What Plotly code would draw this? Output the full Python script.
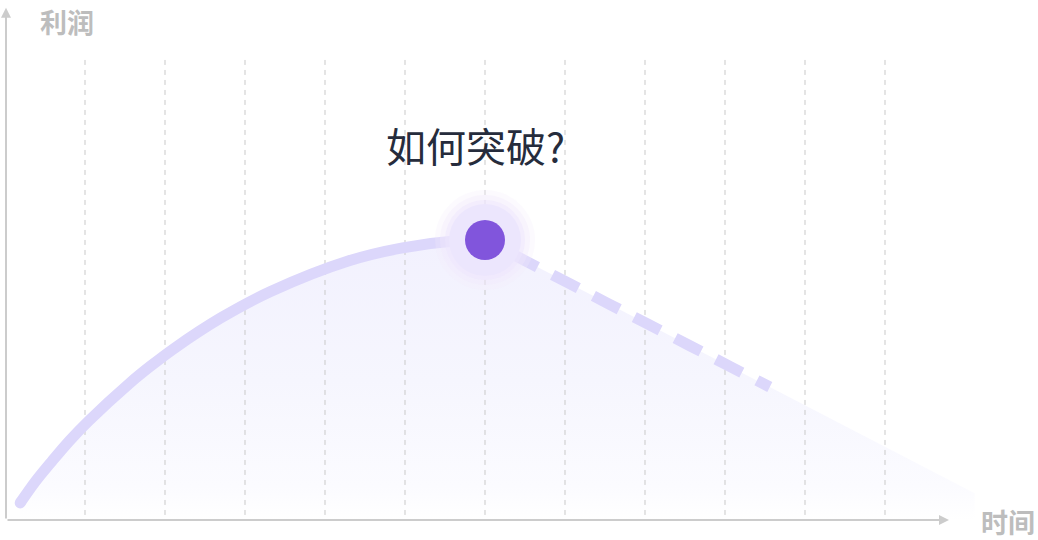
import plotly.graph_objects as go

# time axis: one unit per dashed grid column, profit: 0 at the x axis, 100 at the peak
time_solid = [0.19, 0.38, 0.59, 0.81, 1.05, 1.56, 1.83, 2.11, 2.70, 3.32,
              4.29, 4.97, 5.65, 6]
profit_solid = [6.1, 13.75, 21.1, 28.4, 35.5, 48.9, 55.2, 61.2, 72.2, 81.6,
                92.5, 97.2, 99.75, 100]

time_dash = [6, 7, 8, 9, 9.56]
profit_dash = [100, 85.3, 70.5, 55.8, 47.5]

# the shaded area keeps falling after the dashed line stops
time_tail = [10, 11, 12.12]
profit_tail = [41.1, 26.4, 9.6]

grid_ticks = [1, 2, 3, 4, 5, 6, 7, 8, 9, 10, 11]
grid_top = 164.3

peak_time = 6
peak_profit = 100

y_label = "利润"
x_label = "时间"
question = "如何突破?"

LINE = "#dcd7fb"
AXIS = "#cccccc"
FONT = "Noto Sans CJK SC"

fig = go.Figure()

# soft gradient under the curve
area_x = time_solid + time_dash[1:] + time_tail
area_y = profit_solid + profit_dash[1:] + profit_tail
fig.add_trace(
    go.Scatter(x=area_x,
               y=area_y,
               mode="lines",
               line=dict(width=0),
               fill="tozeroy",
               fillgradient=dict(type="vertical",
                                 start=0,
                                 stop=100,
                                 colorscale=[[0, "rgba(255,255,255,1)"],
                                             [0.12, "#fbfbff"],
                                             [0.5, "#f6f6fe"],
                                             [1, "#f2f1fe"]]),
               hoverinfo="skip",
               showlegend=False))

# dashed vertical guides
gx, gy = [], []
for t in grid_ticks:
    gx += [t, t, None]
    gy += [grid_top, 0, None]
fig.add_trace(
    go.Scatter(x=gx,
               y=gy,
               mode="lines",
               line=dict(color="#c9c9c9", width=1, dash="5px,5px"),
               hoverinfo="skip",
               showlegend=False))

fig.add_trace(
    go.Scatter(x=time_solid,
               y=profit_solid,
               mode="lines",
               line=dict(color=LINE, width=11, shape="spline"),
               hoverinfo="skip",
               showlegend=False))
# round start cap
fig.add_trace(
    go.Scatter(x=time_solid[:1],
               y=profit_solid[:1],
               mode="markers",
               marker=dict(color=LINE, size=11),
               hoverinfo="skip",
               showlegend=False))

# dash pattern split so the first visible dash starts just outside the halo
fig.add_trace(
    go.Scatter(x=time_dash,
               y=profit_dash,
               mode="lines",
               line=dict(color=LINE, width=11, dash="13px,17px,16px,0px"),
               hoverinfo="skip",
               showlegend=False))

# peak marker: glow, halo, dot
for size, color in [(100, "rgba(242,234,253,0.25)"), (90, "rgba(240,231,253,0.35)"),
                    (80, "rgba(238,229,253,0.5)"), (72, "#ece6fd"), (40, "#8155dc")]:
    fig.add_trace(
        go.Scatter(x=[peak_time],
                   y=[peak_profit],
                   mode="markers",
                   marker=dict(color=color, size=size, line=dict(width=0)),
                   hoverinfo="skip",
                   showlegend=False))

# axes with arrow tips
fig.add_annotation(x=0.0125, y=182.9, ax=0.0125, ay=0, xref="x", yref="y",
                   axref="x", ayref="y", text="", showarrow=True,
                   arrowhead=2, arrowsize=1, arrowwidth=2, arrowcolor=AXIS)
fig.add_annotation(x=11.8, y=0, ax=0.0125, ay=0, xref="x", yref="y",
                   axref="x", ayref="y", text="", showarrow=True,
                   arrowhead=2, arrowsize=1, arrowwidth=2, arrowcolor=AXIS)

fig.add_annotation(x=0.41, y=178, xref="x", yref="y", text=y_label,
                   showarrow=False, xanchor="left",
                   font=dict(family=FONT, size=27, color="#bdbdbd", weight="bold"))
fig.add_annotation(x=12.9, y=-0.7, xref="x", yref="y", text=x_label,
                   showarrow=False, xanchor="right",
                   font=dict(family=FONT, size=27, color="#bdbdbd", weight="bold"))
fig.add_annotation(x=5.875, y=133.9, xref="x", yref="y", text=question,
                   showarrow=False,
                   font=dict(family=FONT, size=40, color="#262c3c"))

fig.update_xaxes(range=[-0.0625, 12.9125], visible=False, fixedrange=True)
fig.update_yaxes(range=[-7.14, 185.71], visible=False, fixedrange=True)
fig.update_layout(width=1038,
                  height=540,
                  margin=dict(l=0, r=0, t=0, b=0),
                  paper_bgcolor="white",
                  plot_bgcolor="white",
                  font=dict(family=FONT))

# the page body has an 8px default margin; drop it so the figure fills the window
fig.write_html("out.html",
               config={"displayModeBar": False},
               post_script="document.body.style.margin = '0';")
